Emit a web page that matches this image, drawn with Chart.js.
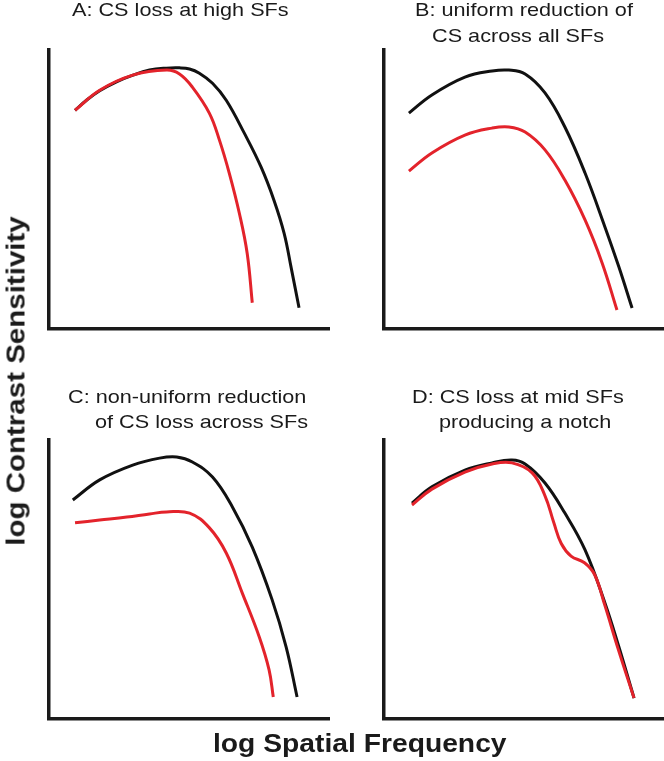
<!DOCTYPE html>
<html>
<head>
<meta charset="utf-8">
<script src="https://cdn.jsdelivr.net/npm/chart.js@4.4.1/dist/chart.umd.min.js"></script>
<style>
  body { margin: 0; background: #fff; }
  #wrap { position: relative; width: 664px; height: 761px; overflow: hidden; }
  canvas { position: absolute; }
  .t { position: absolute; white-space: nowrap; font-family: "Liberation Sans", Arial, sans-serif;
       color: #1a1a1a; font-size: 19px; line-height: 19px; transform-origin: 0 0; transform: scaleX(1.14); }
  .b { position: absolute; white-space: nowrap; font-family: "Liberation Sans", Arial, sans-serif;
       font-weight: bold; color: #1a1a1a; font-size: 25px; line-height: 25px; }
</style>
</head>
<body>
<div id="wrap">
  <canvas id="chartA" width="332" height="380" style="left:0;top:0"></canvas>
  <canvas id="chartB" width="332" height="380" style="left:332px;top:0"></canvas>
  <canvas id="chartC" width="332" height="381" style="left:0;top:380px"></canvas>
  <canvas id="chartD" width="332" height="381" style="left:332px;top:380px"></canvas>

  <div class="t" style="left:72px;top:0px">A: CS loss at high SFs</div>
  <div class="t" style="left:415px;top:0px">B: uniform reduction of</div>
  <div class="t" style="left:432px;top:26px">CS across all SFs</div>
  <div class="t" style="left:68px;top:387px">C: non-uniform reduction</div>
  <div class="t" style="left:95px;top:412px">of CS loss across SFs</div>
  <div class="t" style="left:412px;top:387px">D: CS loss at mid SFs</div>
  <div class="t" style="left:439px;top:412px">producing a notch</div>

  <div class="b" style="left:213px;top:731px;transform-origin:0 0;transform:scaleX(1.13)">log Spatial Frequency</div>
  <div class="b" style="left:16px;top:381px;transform:translate(-50%,-50%) rotate(-90deg) scaleX(1.18)">log Contrast Sensitivity</div>
</div>
<script>
// values, x and y both on a 0..100 scale inside each panel
// A: CS loss at high SFs
var aNormalX = [9.3, 13.4, 18.1, 24.1, 30.0, 35.9, 41.9, 46.6, 50.2, 53.7, 58.4, 63.3, 69.8, 75.8, 80.4, 84.0, 86.5, 89.3];
var aNormalY = [78.4, 82.0, 85.4, 88.6, 91.0, 92.8, 93.5, 93.6, 93.2, 91.7, 88.1, 82.0, 70.1, 57.9, 46.0, 34.2, 21.9, 7.6];
var aLossX = [9.3, 18.1, 29.9, 42.0, 46.6, 51.2, 57.3, 60.9, 64.4, 68.0, 70.8, 72.6];
var aLossY = [78.4, 85.6, 91.0, 92.8, 91.4, 86.7, 77.3, 67.6, 55.8, 41.4, 27.0, 9.4];

// B: uniform reduction
var bNormalX = [8.9, 17.1, 28.9, 38.6, 44.6, 50.4, 57.5, 64.6, 71.8, 78.9, 83.9, 88.6];
var bNormalY = [77.4, 83.9, 90.3, 92.5, 92.8, 91.4, 84.6, 72.4, 55.9, 36.6, 22.2, 7.5];
var bLossX = [8.9, 17.1, 28.9, 38.6, 44.6, 50.4, 57.5, 64.6, 71.8, 77.9, 83.2];
var bLossY = [56.6, 63.1, 69.5, 72.0, 72.4, 70.6, 64.2, 53.4, 39.1, 23.7, 6.8];

// C: non-uniform reduction
var cNormalX = [8.5, 18.1, 29.9, 39.5, 45.6, 51.2, 58.4, 65.5, 72.6, 79.7, 84.7, 88.6];
var cNormalY = [78.5, 85.7, 91.0, 93.5, 93.9, 92.1, 86.7, 76.0, 61.6, 42.7, 25.8, 7.9];
var cLossX = [9.3, 18.1, 27.8, 35.9, 42.0, 50.2, 57.3, 63.3, 69.0, 75.1, 78.6, 80.1];
var cLossY = [70.3, 71.3, 72.4, 73.5, 74.2, 73.8, 68.5, 59.5, 45.2, 29.4, 17.6, 7.9];

// D: notch at mid SFs
var dNormalX = [10.0, 17.1, 28.9, 38.6, 45.7, 50.4, 57.5, 64.6, 71.8, 78.9, 83.9, 89.3];
var dNormalY = [77.4, 83.2, 89.2, 91.8, 92.8, 91.4, 84.6, 73.8, 60.6, 41.6, 25.8, 7.5];
var dLossX = [10.0, 17.1, 28.9, 38.6, 45.7, 52.9, 57.5, 60.6, 63.3, 66.8, 71.6, 75.2, 78.8, 83.5, 89.3];
var dLossY = [76.7, 82.4, 88.5, 91.4, 91.8, 88.2, 80.0, 70.5, 62.9, 58.4, 56.0, 51.8, 41.0, 25.5, 7.5];

function pts(xs, ys) {
  return xs.map(function(x, i){ return {x: x, y: ys[i]}; });
}

function drawPanel(id, normX, normY, lossX, lossY, pad){
  var axis = {
    type: 'linear', min: 0, max: 100,
    grid: {display: false, drawTicks: false},
    ticks: {display: false},
    border: {display: true, color: '#1a1a1a', width: 3.5}
  };
  new Chart(id, {
    type: 'scatter',
    data: {
      datasets: [{
        data: pts(lossX, lossY),
        showLine: true,
        borderColor: '#e3232b',
        borderWidth: 3,
        pointRadius: 0,
        tension: 0.4,
        clip: false
      }, {
        data: pts(normX, normY),
        showLine: true,
        borderColor: '#111111',
        borderWidth: 3,
        pointRadius: 0,
        tension: 0.4,
        clip: false
      }]
    },
    options: {
      responsive: false,
      devicePixelRatio: 1,
      animation: false,
      events: [],
      layout: {padding: pad},
      plugins: {legend: {display: false}, tooltip: {enabled: false}},
      scales: {x: axis, y: Object.assign({}, axis)}
    }
  });
}

drawPanel('chartA', aNormalX, aNormalY, aLossX, aLossY, {left: 49, right: 3, top: 50, bottom: 51});
drawPanel('chartB', bNormalX, bNormalY, bLossX, bLossY, {left: 52, right: 0, top: 50, bottom: 51});
drawPanel('chartC', cNormalX, cNormalY, cLossX, cLossY, {left: 49, right: 3, top: 60, bottom: 42});
drawPanel('chartD', dNormalX, dNormalY, dLossX, dLossY, {left: 52, right: 0, top: 60, bottom: 42});
</script>
</body>
</html>
